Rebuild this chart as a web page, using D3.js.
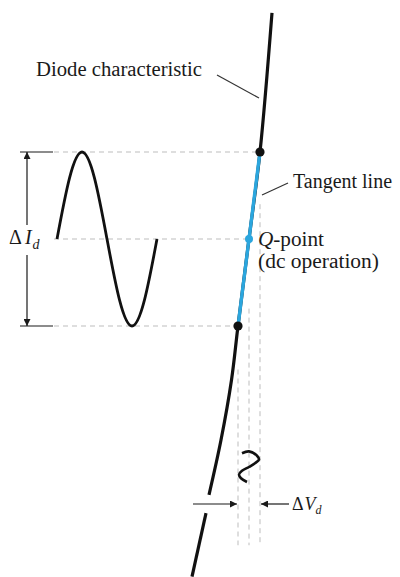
<!DOCTYPE html>
<html>
<head>
<meta charset="utf-8">
<script src="https://cdn.jsdelivr.net/npm/d3@7"></script>
<style>
  body { margin: 0; background: #fff; }
  svg { display: block; }
</style>
</head>
<body>
<div id="chart"></div>
<script>
// diode characteristic, voltage (V) vs current (mA)
var charUpperV = [0.723, 0.711, 0.700, 0.689, 0.6825, 0.672, 0.660];
var charUpperI = [33.0, 25.0, 20.0, 15.0, 11.9, 8.45, 5.3];
var charLowerV = [0.657, 0.643];
var charLowerI = [4.25, 0.6];

// tangent at the Q-point
var tangentV = [0.711, 0.689];
var tangentI = [25, 15];
var qV = 0.700, qI = 20;

// current swing (time is horizontal)
var iWaveT = [0, 0.125, 0.25, 0.375, 0.5, 0.625, 0.75, 0.875, 1];
var iWaveI = [20, 23.5, 25, 23.5, 20, 16.5, 15, 16.5, 20];

// voltage swing (time goes downwards)
var vWaveT = [0.04, -0.02, 0.125, 0.25, 0.375, 0.5, 0.625, 0.75, 0.875, 1];
var vWaveV = [0.693, 0.700, 0.708, 0.710, 0.706, 0.700, 0.693, 0.690, 0.692, 0.698];

// projection lines
var levelsI = [25, 20, 15];
var levelsV = [0.711, 0.700, 0.689];
var dashStartI = [22, 16, 12.5];
var dashEndI = 2.4;

var W = 400, H = 577;

var x = d3.scaleLinear().domain([0.6, 0.8]).range([149, 349]);
var y = d3.scaleLinear().domain([0, 40]).range([587, -109]);
var tX = d3.scaleLinear().domain([0, 1]).range([57, 157]);
var tY = d3.scaleLinear().domain([0, 1]).range([452, 482]);

var blue = "#2ba6de";
var dashGrey = "#bdbdbd";
var ink = "#1a1a1a";
var serif = "'Liberation Serif', 'DejaVu Serif', serif";

var svg = d3.select("#chart")
    .append("svg")
    .attr("width", W)
    .attr("height", H);

svg.append("rect").attr("width", W).attr("height", H).attr("fill", "#fff");

var defs = svg.append("defs");
defs.append("marker")
    .attr("id", "head")
    .attr("viewBox", "0 0 10 10")
    .attr("refX", 10).attr("refY", 5)
    .attr("markerWidth", 10).attr("markerHeight", 7)
    .attr("markerUnits", "userSpaceOnUse")
    .attr("orient", "auto")
    .append("path")
    .attr("d", "M0,0 L10,5 L0,10 Z")
    .attr("fill", ink);

// horizontal dashed projections
svg.selectAll(".hdash")
    .data(levelsI)
    .enter()
    .append("line")
    .attr("x1", tX(0) - 3)
    .attr("x2", function (d, i) { return x(levelsV[i]); })
    .attr("y1", function (d) { return y(d); })
    .attr("y2", function (d) { return y(d); })
    .attr("stroke", dashGrey)
    .attr("stroke-width", 1)
    .attr("stroke-dasharray", "5,4");

// vertical dashed projections
svg.selectAll(".vdash")
    .data(levelsV)
    .enter()
    .append("line")
    .attr("x1", function (d) { return x(d); })
    .attr("x2", function (d) { return x(d); })
    .attr("y1", function (d, i) { return y(dashStartI[i]); })
    .attr("y2", y(dashEndI))
    .attr("stroke", dashGrey)
    .attr("stroke-width", 1)
    .attr("stroke-dasharray", "5,4");

// ticks for delta I
[levelsI[0], levelsI[2]].forEach(function (lv) {
    svg.append("line")
        .attr("x1", 20).attr("x2", tX(0) - 4)
        .attr("y1", y(lv)).attr("y2", y(lv))
        .attr("stroke", ink).attr("stroke-width", 1.2);
});

// delta I arrows
svg.append("line")
    .attr("x1", 27).attr("x2", 27)
    .attr("y1", y(qI) - 14).attr("y2", y(levelsI[0]))
    .attr("stroke", ink).attr("stroke-width", 1.2)
    .attr("marker-end", "url(#head)");
svg.append("line")
    .attr("x1", 27).attr("x2", 27)
    .attr("y1", y(qI) + 16).attr("y2", y(levelsI[2]))
    .attr("stroke", ink).attr("stroke-width", 1.2)
    .attr("marker-end", "url(#head)");

var dI = svg.append("text")
    .attr("x", 9).attr("y", y(qI) + 5)
    .attr("font-family", serif).attr("font-size", 20).attr("fill", ink);
dI.append("tspan").text("\u0394");
dI.append("tspan").attr("font-style", "italic").attr("dx", 3).text("I");
dI.append("tspan").attr("font-style", "italic").attr("font-size", 14).attr("dx", 1).attr("dy", 5).text("d");

// current sine wave
var iLine = d3.line()
    .x(function (d, i) { return tX(iWaveT[i]); })
    .y(function (d) { return y(d); })
    .curve(d3.curveNatural);
svg.append("path")
    .attr("d", iLine(iWaveI))
    .attr("fill", "none")
    .attr("stroke", "#111")
    .attr("stroke-width", 2.8);

// voltage squiggle
var vLine = d3.line()
    .x(function (d) { return x(d); })
    .y(function (d, i) { return tY(vWaveT[i]); })
    .curve(d3.curveCatmullRom);
svg.append("path")
    .attr("d", vLine(vWaveV))
    .attr("fill", "none")
    .attr("stroke", "#111")
    .attr("stroke-width", 2.6);

// diode characteristic
var charLine = d3.line()
    .x(function (d) { return x(d[0]); })
    .y(function (d) { return y(d[1]); })
    .curve(d3.curveCatmullRom);
svg.append("path")
    .attr("d", charLine(d3.zip(charUpperV, charUpperI)))
    .attr("fill", "none").attr("stroke", "#111").attr("stroke-width", 3.2);
svg.append("path")
    .attr("d", charLine(d3.zip(charLowerV, charLowerI)))
    .attr("fill", "none").attr("stroke", "#111").attr("stroke-width", 3.2);

// tangent line
svg.append("line")
    .attr("x1", x(tangentV[0])).attr("y1", y(tangentI[0]))
    .attr("x2", x(tangentV[1])).attr("y2", y(tangentI[1]))
    .attr("stroke", blue).attr("stroke-width", 3.4);

// end dots and Q-point
svg.selectAll(".dot")
    .data(d3.zip(tangentV, tangentI))
    .enter()
    .append("circle")
    .attr("cx", function (d) { return x(d[0]); })
    .attr("cy", function (d) { return y(d[1]); })
    .attr("r", 4.6)
    .attr("fill", "#111");
svg.append("circle")
    .attr("cx", x(qV)).attr("cy", y(qI)).attr("r", 4)
    .attr("fill", blue);

// delta V arrows
var vArrowY = 504;
svg.append("line")
    .attr("x1", 193).attr("x2", x(levelsV[2]) - 1)
    .attr("y1", vArrowY).attr("y2", vArrowY)
    .attr("stroke", ink).attr("stroke-width", 1.2)
    .attr("marker-end", "url(#head)");
svg.append("line")
    .attr("x1", 289).attr("x2", x(levelsV[0]) + 1)
    .attr("y1", vArrowY).attr("y2", vArrowY)
    .attr("stroke", ink).attr("stroke-width", 1.2)
    .attr("marker-end", "url(#head)");

var dV = svg.append("text")
    .attr("x", 292).attr("y", vArrowY + 6)
    .attr("font-family", serif).attr("font-size", 18).attr("fill", ink);
dV.append("tspan").text("\u0394");
dV.append("tspan").attr("font-style", "italic").attr("dx", 1).text("V");
dV.append("tspan").attr("font-style", "italic").attr("font-size", 12).attr("dy", 4).text("d");

// labels and leaders
svg.append("text")
    .attr("x", 36).attr("y", 76)
    .attr("font-family", serif).attr("font-size", 20).attr("fill", ink)
    .attr("textLength", 166).attr("lengthAdjust", "spacingAndGlyphs")
    .text("Diode characteristic");
svg.append("line")
    .attr("x1", 217).attr("y1", 75).attr("x2", 259).attr("y2", 98)
    .attr("stroke", "#333").attr("stroke-width", 1.2);

svg.append("text")
    .attr("x", 293).attr("y", 188)
    .attr("font-family", serif).attr("font-size", 20).attr("fill", ink)
    .attr("textLength", 99).attr("lengthAdjust", "spacingAndGlyphs")
    .text("Tangent line");
svg.append("line")
    .attr("x1", 288).attr("y1", 183).attr("x2", 262).attr("y2", 195)
    .attr("stroke", "#333").attr("stroke-width", 1.2);

var qt = svg.append("text")
    .attr("x", 258).attr("y", 246)
    .attr("font-family", serif).attr("font-size", 20).attr("fill", ink)
    .attr("textLength", 66).attr("lengthAdjust", "spacingAndGlyphs");
qt.append("tspan").attr("font-style", "italic").text("Q");
qt.append("tspan").text("-point");
svg.append("text")
    .attr("x", 258).attr("y", 268)
    .attr("font-family", serif).attr("font-size", 20).attr("fill", ink)
    .attr("textLength", 121).attr("lengthAdjust", "spacingAndGlyphs")
    .text("(dc operation)");
</script>
</body>
</html>
